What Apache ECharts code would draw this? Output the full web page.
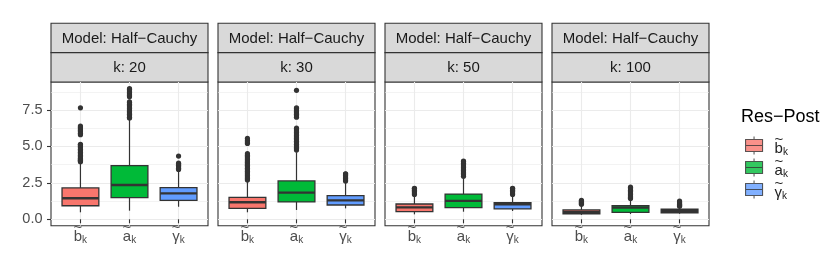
<!DOCTYPE html>
<html><head><meta charset="utf-8">
<script src="https://cdn.jsdelivr.net/npm/echarts@6/dist/echarts.min.js"></script>
<style>html,body{margin:0;padding:0;background:#fff}#c{width:830px;height:277px}</style>
</head><body><div id="c"></div>
<script>
// ---------- data ----------
const modelLabel = 'Model: Half\u2212Cauchy';
const panelLabels = ['k: 20', 'k: 30', 'k: 50', 'k: 100'];
const categoryNames = ['b', 'a', 'g'];
const categoryLetters = ['b', 'a', '\u03b3'];
const categoryPos = [1, 2, 3];
const yTicks = [0, 2.5, 5, 7.5];
const yMinorTicks = [1.25, 3.75, 6.25, 8.75];
const legendTitle = 'Res\u2212Post';
const fillColors = ['#F8766D', '#00BA38', '#619CFF'];

// box stats per category: [lower whisker, Q1, median, Q3, upper whisker]
const boxK20 = [
  [0.48, 0.93, 1.44, 2.15, 3.90],
  [0.59, 1.48, 2.35, 3.68, 6.88],
  [0.86, 1.30, 1.78, 2.17, 3.30]
];
const boxK30 = [
  [0.48, 0.75, 1.17, 1.51, 2.60],
  [0.64, 1.19, 1.83, 2.63, 4.60],
  [0.75, 0.98, 1.30, 1.62, 2.50]
];
const boxK50 = [
  [0.34, 0.52, 0.82, 1.05, 1.55],
  [0.52, 0.80, 1.26, 1.73, 2.80],
  [0.57, 0.71, 1.03, 1.14, 1.55]
];
const boxK100 = [
  [0.30, 0.38, 0.50, 0.64, 0.98],
  [0.36, 0.48, 0.80, 0.93, 1.30],
  [0.38, 0.45, 0.59, 0.69, 0.85]
];

// outliers per category
const outK20 = [
  [3.95, 4.0, 4.05, 4.1, 4.15, 4.2, 4.3, 4.4, 4.5, 4.6, 4.7, 4.8, 4.9, 5.0, 5.1, 5.15, 5.8, 5.9, 6.0, 6.1, 6.2, 6.3, 6.4, 7.65],
  [6.95, 7.0, 7.1, 7.2, 7.3, 7.4, 7.5, 7.6, 7.7, 7.8, 7.9, 8.0, 8.05, 8.4, 8.5, 8.6, 8.7, 8.8, 8.9, 8.96],
  [3.42, 3.5, 3.6, 3.7, 3.8, 3.85, 4.34]
];
const outK30 = [
  [2.7, 2.8, 2.9, 3.0, 3.1, 3.2, 3.3, 3.4, 3.5, 3.6, 3.7, 3.8, 3.9, 4.0, 4.1, 4.2, 4.3, 4.4, 4.5, 5.2, 5.3, 5.4, 5.55],
  [4.75, 4.85, 4.95, 5.05, 5.15, 5.25, 5.35, 5.45, 5.55, 5.65, 5.75, 5.85, 5.95, 6.05, 6.15, 6.25, 7.0, 7.1, 7.2, 7.3, 7.4, 7.5, 7.6, 7.65, 8.85],
  [2.62, 2.7, 2.8, 2.9, 3.0, 3.1, 3.12]
];
const outK50 = [
  [1.7, 1.8, 1.9, 2.0, 2.1, 2.13],
  [2.95, 3.05, 3.15, 3.25, 3.35, 3.45, 3.55, 3.65, 3.75, 3.85, 3.95, 4.0],
  [1.7, 1.8, 1.9, 2.0, 2.1, 2.13]
];
const outK100 = [
  [1.03, 1.1, 1.17, 1.24, 1.3],
  [1.43, 1.5, 1.6, 1.7, 1.8, 1.9, 2.0, 2.1, 2.2],
  [0.9, 0.97, 1.04, 1.11, 1.18, 1.25]
];

const panelBoxes = [boxK20, boxK30, boxK50, boxK100];
const panelOutliers = [outK20, outK30, outK50, outK100];

// ---------- layout / style ----------
const FONT = "'Liberation Sans', Arial, Helvetica, sans-serif";
const PANEL_LEFT = 51, PANEL_STEP = 167, PANEL_W = 157;
const PLOT_TOP = 82, PLOT_H = 143.7;
const STRIP_TOP = 23.3, STRIP_H = 29.35;
const Y_MIN = -0.44, Y_MAX = 9.42;
const X_MIN = 0.4, X_MAX = 3.6;
const DARK = '#333333', GRID = '#EBEBEB';

// tilde line above the letter, then letter + subscript k
function tildeLabel(letter) {
  return '{t|~}\n{m|' + letter + '}{s|k}';
}
function makeRich(color, leftPad) {
  return {
    t: { fontFamily: FONT, fontSize: 15, color: color, lineHeight: 4, padding: [0, 5, 0, leftPad] },
    m: { fontFamily: FONT, fontSize: 15, color: color, lineHeight: 12, verticalAlign: 'top', padding: [0, 0, 0, leftPad] },
    s: { fontFamily: FONT, fontSize: 10, color: color, lineHeight: 8, verticalAlign: 'top', padding: [5.5, 0, 0, 0] }
  };
}

const grids = [], xAxes = [], yAxes = [], series = [], graphics = [];

function renderBox(params, api) {
  const x = api.value(0);
  const lo = api.coord([x, api.value(1)]);
  const q1 = api.coord([x, api.value(2)]);
  const med = api.coord([x, api.value(3)]);
  const q3 = api.coord([x, api.value(4)]);
  const hi = api.coord([x, api.value(5)]);
  const w = api.size([0.75, 0])[0];
  const fill = fillColors[Math.round(x) - 1];
  return {
    type: 'group',
    children: [
      { type: 'line', shape: { x1: lo[0], y1: lo[1], x2: q1[0], y2: q1[1] }, style: { stroke: DARK, lineWidth: 1.2 } },
      { type: 'line', shape: { x1: q3[0], y1: q3[1], x2: hi[0], y2: hi[1] }, style: { stroke: DARK, lineWidth: 1.2 } },
      { type: 'rect', shape: { x: q1[0] - w / 2, y: q3[1], width: w, height: q1[1] - q3[1] }, style: { fill: fill, stroke: DARK, lineWidth: 1.3 } },
      { type: 'line', shape: { x1: med[0] - w / 2, y1: med[1], x2: med[0] + w / 2, y2: med[1] }, style: { stroke: DARK, lineWidth: 2.4 } }
    ]
  };
}

panelLabels.forEach(function (lab, i) {
  const left = PANEL_LEFT + i * PANEL_STEP;
  grids.push({ left: left, top: PLOT_TOP, width: PANEL_W, height: PLOT_H, show: true,
    backgroundColor: '#fff', borderColor: DARK, borderWidth: 1.1, containLabel: false, z: 0 });
  xAxes.push({
    type: 'value', gridIndex: i, min: X_MIN, max: X_MAX,
    axisLine: { show: false },
    axisTick: { show: true, length: 4, lineStyle: { color: DARK, width: 1.1 }, customValues: categoryPos },
    axisLabel: { show: true, margin: 0, customValues: categoryPos,
      formatter: function (v) { return tildeLabel(categoryLetters[Math.round(v) - 1]); }, rich: makeRich('#4D4D4D', 0) },
    splitLine: { show: true, lineStyle: { color: GRID, width: 1.1 } }
  });
  yAxes.push({
    type: 'value', gridIndex: i, min: Y_MIN, max: Y_MAX, position: 'left',
    axisLine: { show: false },
    axisTick: { show: i === 0, length: 4, lineStyle: { color: DARK, width: 1.1 }, customValues: yTicks },
    axisLabel: { show: i === 0, margin: 8.5, customValues: yTicks, color: '#4D4D4D', fontSize: 14.5, fontFamily: FONT,
      formatter: function (v) { return v.toFixed(1); } },
    splitLine: { show: true, lineStyle: { color: GRID, width: 1.1 } }
  });
  yAxes.push({
    type: 'value', gridIndex: i, min: Y_MIN, max: Y_MAX, position: 'right',
    axisLine: { show: false },
    axisTick: { show: false, customValues: yMinorTicks },
    axisLabel: { show: false, customValues: yMinorTicks },
    splitLine: { show: true, lineStyle: { color: GRID, width: 0.6 } }
  });

  const boxData = panelBoxes[i].map(function (b, j) { return [categoryPos[j]].concat(b); });
  series.push({
    type: 'custom', xAxisIndex: i, yAxisIndex: 2 * i, renderItem: renderBox,
    dimensions: ['x', 'lo', 'q1', 'med', 'q3', 'hi'],
    encode: { x: 0, y: [1, 2, 3, 4, 5] }, data: boxData, z: 3, silent: true, animation: false
  });
  const outData = [];
  panelOutliers[i].forEach(function (arr, j) {
    arr.forEach(function (v) { outData.push([categoryPos[j], v]); });
  });
  series.push({
    type: 'scatter', xAxisIndex: i, yAxisIndex: 2 * i, data: outData, symbolSize: 5.2,
    itemStyle: { color: DARK, opacity: 1 }, z: 4, silent: true, animation: false
  });

  // strips
  graphics.push({ type: 'rect', shape: { x: left, y: STRIP_TOP, width: PANEL_W, height: STRIP_H },
    style: { fill: '#D9D9D9', stroke: DARK, lineWidth: 1.1 } });
  graphics.push({ type: 'rect', shape: { x: left, y: STRIP_TOP + STRIP_H, width: PANEL_W, height: PLOT_TOP - STRIP_TOP - STRIP_H },
    style: { fill: '#D9D9D9', stroke: DARK, lineWidth: 1.1 } });
  graphics.push({ type: 'text', x: left + PANEL_W / 2, y: STRIP_TOP + STRIP_H / 2 + 0.5,
    style: { text: modelLabel, fill: '#1A1A1A', font: '15px ' + FONT, align: 'center', verticalAlign: 'middle', textAlign: 'center', textVerticalAlign: 'middle' } });
  graphics.push({ type: 'text', x: left + PANEL_W / 2, y: STRIP_TOP + STRIP_H + (PLOT_TOP - STRIP_TOP - STRIP_H) / 2 + 0.5,
    style: { text: lab, fill: '#1A1A1A', font: '15px ' + FONT, align: 'center', verticalAlign: 'middle', textAlign: 'center', textVerticalAlign: 'middle' } });
});

// legend dummy series
categoryNames.forEach(function (n, j) {
  series.push({ type: 'scatter', name: n, xAxisIndex: 0, yAxisIndex: 0, data: [],
    itemStyle: { color: fillColors[j], borderColor: DARK, borderWidth: 1.1 } });
});
graphics.push({ type: 'text', x: 741, y: 117,
  style: { text: legendTitle, fill: '#000', font: '18px ' + FONT, align: 'left', verticalAlign: 'middle', textAlign: 'left', textVerticalAlign: 'middle' } });

const keyIcon = 'path://M0,3 L17,3 L17,15 L0,15 Z M0,9 L17,9 M8.5,0 L8.5,3 M8.5,15 L8.5,18';

const option = {
  animation: false,
  backgroundColor: '#fff',
  grid: grids,
  xAxis: xAxes,
  yAxis: yAxes,
  series: series,
  graphic: { elements: graphics },
  legend: {
    orient: 'vertical', left: 740, top: 127, itemWidth: 17, itemHeight: 18, itemGap: -3,
    selectedMode: false,
    data: categoryNames.map(function (n, j) {
      return { name: n, icon: keyIcon, itemStyle: { color: fillColors[j], borderColor: DARK, borderWidth: 1.1 } };
    }),
    formatter: function (name) { return tildeLabel(categoryLetters[categoryNames.indexOf(name)]); },
    textStyle: { rich: makeRich('#222', 7) }
  }
};

const chart = echarts.init(document.getElementById('c'), null, { renderer: 'canvas' });
chart.setOption(option);
</script>
</body></html>
